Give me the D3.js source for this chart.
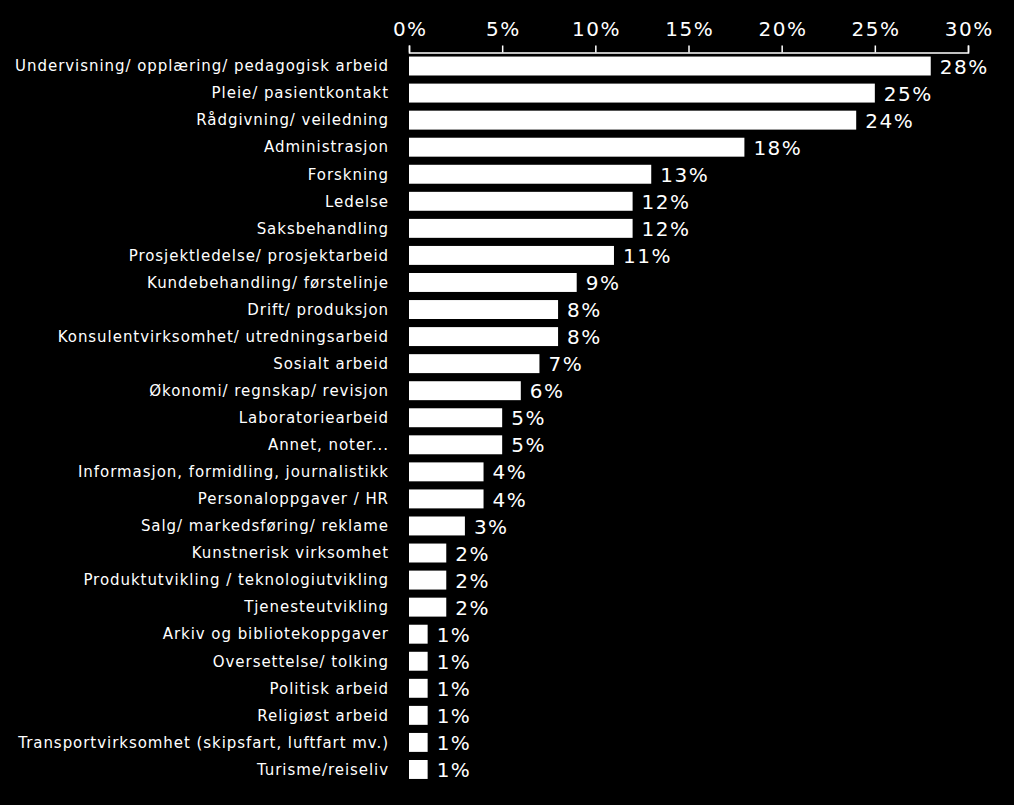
<!DOCTYPE html>
<html><head><meta charset="utf-8">
<script src="https://cdn.jsdelivr.net/npm/d3@7"></script>
<style>html,body{margin:0;padding:0;background:#000;}svg{display:block;}</style>
</head><body>
<svg id="chart" width="1014" height="805"></svg>
<script>
const categories = [
  "Undervisning/ opplæring/ pedagogisk arbeid",
  "Pleie/ pasientkontakt",
  "Rådgivning/ veiledning",
  "Administrasjon",
  "Forskning",
  "Ledelse",
  "Saksbehandling",
  "Prosjektledelse/ prosjektarbeid",
  "Kundebehandling/ førstelinje",
  "Drift/ produksjon",
  "Konsulentvirksomhet/ utredningsarbeid",
  "Sosialt arbeid",
  "Økonomi/ regnskap/ revisjon",
  "Laboratoriearbeid",
  "Annet, noter...",
  "Informasjon, formidling, journalistikk",
  "Personaloppgaver / HR",
  "Salg/ markedsføring/ reklame",
  "Kunstnerisk virksomhet",
  "Produktutvikling / teknologiutvikling",
  "Tjenesteutvikling",
  "Arkiv og bibliotekoppgaver",
  "Oversettelse/ tolking",
  "Politisk arbeid",
  "Religiøst arbeid",
  "Transportvirksomhet (skipsfart, luftfart mv.)",
  "Turisme/reiseliv"
];
const values = [28, 25, 24, 18, 13, 12, 12, 11, 9, 8, 8, 7, 6, 5, 5, 4, 4, 3, 2, 2, 2, 1, 1, 1, 1, 1, 1];
const tickValues = [0, 5, 10, 15, 20, 25, 30];

const svg = d3.select("#chart");
const font = "'DejaVu Sans', Verdana, sans-serif";

const x = d3.scaleLinear().domain([0, 30]).range([409, 968]);
const y = d3.scaleBand().domain(categories).range([52.5, 783]).paddingInner(0.3).paddingOuter(0.15);

svg.append("rect").attr("width", 1014).attr("height", 805).attr("fill", "#000");

const axis = svg.append("g")
  .attr("transform", "translate(0,52.5)")
  .call(d3.axisTop(x).tickValues(tickValues).tickSize(7).tickSizeOuter(7).tickPadding(10).tickFormat(d => d + "%"));
axis.selectAll("path,line").attr("stroke", "#fff").attr("stroke-width", 1.5);
axis.selectAll("text").attr("fill", "#fff").attr("dx", "0.75px")
  .style("font-family", font).style("font-size", "20px").style("letter-spacing", "1.5px");

svg.append("g").selectAll("rect").data(categories).join("rect")
  .attr("x", x(0))
  .attr("y", d => y(d))
  .attr("width", (d, i) => x(values[i]) - x(0))
  .attr("height", y.bandwidth())
  .attr("fill", "#fff");

svg.append("g").selectAll("text").data(categories).join("text")
  .attr("x", 389)
  .attr("y", d => y(d) + y.bandwidth() / 2)
  .attr("dy", "0.35em")
  .attr("text-anchor", "end")
  .attr("fill", "#fff")
  .style("font-family", font)
  .style("font-size", "15px")
  .style("letter-spacing", "0.95px")
  .text(d => d);

svg.append("g").selectAll("text").data(categories).join("text")
  .attr("x", (d, i) => x(values[i]) + 9)
  .attr("y", d => y(d) + y.bandwidth() / 2)
  .attr("dy", "0.38em")
  .attr("fill", "#fff")
  .style("font-family", font)
  .style("font-size", "20px")
  .style("letter-spacing", "1.5px")
  .text((d, i) => values[i] + "%");
</script>
</body></html>
